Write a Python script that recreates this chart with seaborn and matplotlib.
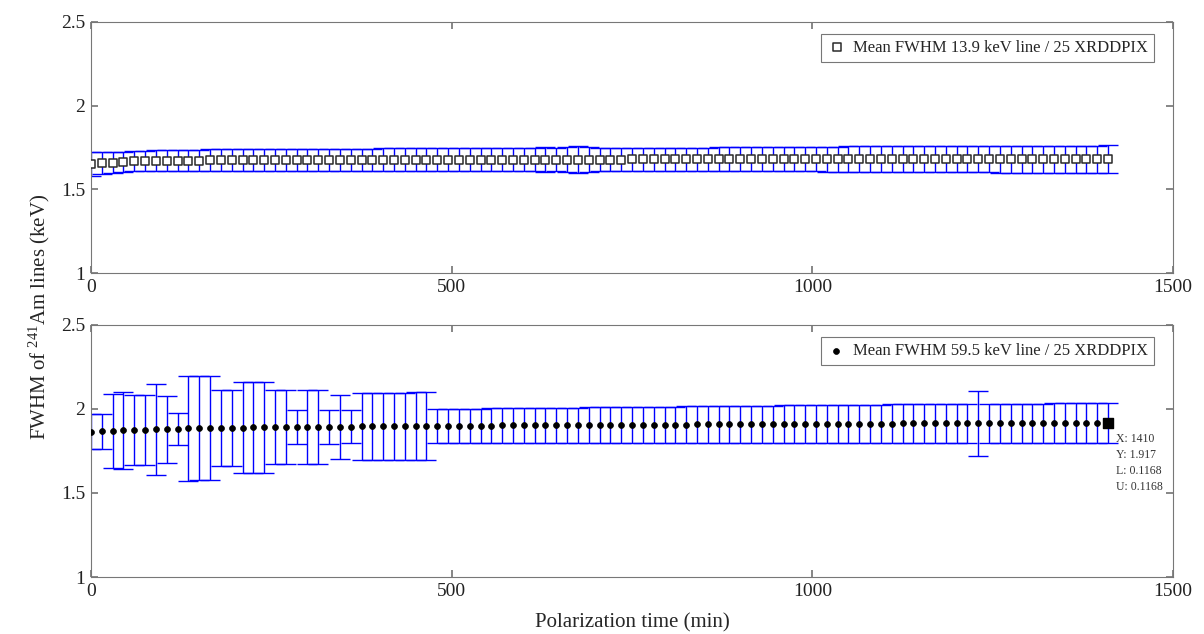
import matplotlib
matplotlib.use("Agg")
import matplotlib.pyplot as plt
import seaborn as sns
import pandas as pd

# polarization time (min)
time_min = [0, 15, 30, 45, 60, 75, 90, 105, 120, 135,
            150, 165, 180, 195, 210, 225, 240, 255, 270, 285,
            300, 315, 330, 345, 360, 375, 390, 405, 420, 435,
            450, 465, 480, 495, 510, 525, 540, 555, 570, 585,
            600, 615, 630, 645, 660, 675, 690, 705, 720, 735,
            750, 765, 780, 795, 810, 825, 840, 855, 870, 885,
            900, 915, 930, 945, 960, 975, 990, 1005, 1020, 1035,
            1050, 1065, 1080, 1095, 1110, 1125, 1140, 1155, 1170, 1185,
            1200, 1215, 1230, 1245, 1260, 1275, 1290, 1305, 1320, 1335,
            1350, 1365, 1380, 1395, 1410]

# mean FWHM of the 13.9 keV line (keV) and its error
fwhm_139 = [1.650, 1.655, 1.660, 1.664, 1.667, 1.669, 1.670, 1.671, 1.671, 1.672,
            1.672, 1.673, 1.673, 1.673, 1.674, 1.674, 1.674, 1.674, 1.675, 1.675,
            1.675, 1.675, 1.675, 1.676, 1.676, 1.676, 1.676, 1.676, 1.676, 1.677,
            1.677, 1.677, 1.677, 1.677, 1.677, 1.677, 1.677, 1.678, 1.678, 1.678,
            1.678, 1.678, 1.678, 1.678, 1.678, 1.678, 1.678, 1.678, 1.678, 1.678,
            1.679, 1.679, 1.679, 1.679, 1.679, 1.679, 1.679, 1.679, 1.679, 1.679,
            1.679, 1.679, 1.679, 1.679, 1.679, 1.679, 1.679, 1.679, 1.680, 1.680,
            1.680, 1.680, 1.680, 1.680, 1.680, 1.680, 1.680, 1.680, 1.680, 1.680,
            1.680, 1.680, 1.680, 1.680, 1.680, 1.680, 1.680, 1.680, 1.680, 1.680,
            1.680, 1.680, 1.680, 1.680, 1.680]
err_139 = [0.070, 0.066, 0.062, 0.060, 0.060, 0.061, 0.062, 0.063, 0.063, 0.064,
           0.064, 0.065, 0.065, 0.065, 0.065, 0.066, 0.066, 0.066, 0.066, 0.066,
           0.067, 0.067, 0.067, 0.067, 0.067, 0.067, 0.067, 0.068, 0.068, 0.068,
           0.068, 0.068, 0.068, 0.068, 0.068, 0.068, 0.068, 0.069, 0.069, 0.069,
           0.069, 0.069, 0.076, 0.069, 0.074, 0.078, 0.076, 0.069, 0.069, 0.070,
           0.070, 0.070, 0.070, 0.070, 0.070, 0.070, 0.070, 0.070, 0.071, 0.071,
           0.071, 0.071, 0.071, 0.071, 0.071, 0.071, 0.071, 0.071, 0.074, 0.075,
           0.076, 0.076, 0.077, 0.077, 0.077, 0.078, 0.078, 0.078, 0.078, 0.079,
           0.079, 0.079, 0.079, 0.079, 0.080, 0.080, 0.080, 0.080, 0.080, 0.080,
           0.081, 0.081, 0.081, 0.081, 0.082]

# mean FWHM of the 59.5 keV line (keV) and its error
fwhm_595 = [1.865, 1.868, 1.870, 1.872, 1.874, 1.876, 1.878, 1.880, 1.882, 1.884,
            1.885, 1.886, 1.887, 1.888, 1.889, 1.890, 1.890, 1.891, 1.892, 1.892,
            1.893, 1.893, 1.894, 1.895, 1.895, 1.896, 1.897, 1.897, 1.898, 1.898,
            1.899, 1.899, 1.900, 1.900, 1.900, 1.901, 1.901, 1.901, 1.902, 1.902,
            1.902, 1.903, 1.903, 1.903, 1.904, 1.904, 1.904, 1.905, 1.905, 1.905,
            1.906, 1.906, 1.906, 1.907, 1.907, 1.907, 1.908, 1.908, 1.908, 1.909,
            1.909, 1.909, 1.910, 1.910, 1.910, 1.911, 1.911, 1.911, 1.912, 1.912,
            1.912, 1.913, 1.913, 1.913, 1.913, 1.914, 1.914, 1.914, 1.914, 1.915,
            1.915, 1.915, 1.915, 1.915, 1.916, 1.916, 1.916, 1.916, 1.916, 1.917,
            1.917, 1.917, 1.917, 1.917, 1.917]
err_595 = [0.105, 0.105, 0.220, 0.230, 0.210, 0.210, 0.270, 0.200, 0.095, 0.310,
           0.310, 0.310, 0.227, 0.227, 0.270, 0.270, 0.270, 0.220, 0.220, 0.100,
           0.220, 0.220, 0.100, 0.190, 0.100, 0.200, 0.200, 0.200, 0.200, 0.200,
           0.202, 0.203, 0.100, 0.100, 0.101, 0.101, 0.101, 0.102, 0.102, 0.102,
           0.103, 0.103, 0.103, 0.104, 0.104, 0.104, 0.105, 0.105, 0.105, 0.106,
           0.106, 0.106, 0.107, 0.107, 0.107, 0.108, 0.108, 0.108, 0.109, 0.109,
           0.109, 0.110, 0.110, 0.110, 0.111, 0.111, 0.111, 0.112, 0.112, 0.112,
           0.113, 0.113, 0.113, 0.113, 0.114, 0.114, 0.114, 0.114, 0.115, 0.115,
           0.115, 0.115, 0.195, 0.116, 0.116, 0.116, 0.116, 0.116, 0.1165, 0.1165,
           0.1165, 0.1166, 0.1167, 0.1167, 0.1168]

label_139 = "Mean FWHM 13.9 keV line / 25 XRDDPIX"
label_595 = "Mean FWHM 59.5 keV line / 25 XRDDPIX"

df = pd.DataFrame({"time": time_min, "f139": fwhm_139, "e139": err_139,
                   "f595": fwhm_595, "e595": err_595})

sns.set_theme(style="ticks")
plt.rcParams["font.family"] = ["Liberation Serif", "DejaVu Serif"]
plt.rcParams["mathtext.default"] = "regular"
plt.rcParams["axes.edgecolor"] = "#777777"
plt.rcParams["xtick.color"] = "#777777"
plt.rcParams["ytick.color"] = "#777777"
plt.rcParams["xtick.labelcolor"] = "#222222"
plt.rcParams["ytick.labelcolor"] = "#222222"

fig = plt.figure(figsize=(12.04, 6.34), dpi=100)
ax1 = fig.add_axes([0.0756, 0.5694, 0.8987, 0.396])
ax2 = fig.add_axes([0.0756, 0.0899, 0.8987, 0.3975])

# top panel: 13.9 keV line
ax1.errorbar(df["time"], df["f139"], yerr=df["e139"], fmt="none",
             ecolor="blue", elinewidth=1.0, capsize=7, capthick=1.0, zorder=2)
sns.scatterplot(data=df, x="time", y="f139", ax=ax1, marker="s", s=28,
                facecolor="white", edgecolor="#2a2a2a", linewidth=1.1,
                label=label_139, zorder=3)

# bottom panel: 59.5 keV line
ax2.errorbar(df["time"], df["f595"], yerr=df["e595"], fmt="none",
             ecolor="blue", elinewidth=1.0, capsize=7, capthick=1.0, zorder=2)
sns.scatterplot(data=df, x="time", y="f595", ax=ax2, marker="o", s=18,
                color="black", edgecolor="black", linewidth=0.5,
                label=label_595, zorder=3)

# data tip on the last point
last = df.iloc[-1]
ax2.scatter([last["time"]], [last["f595"]], marker="s", s=60, color="black", zorder=4)
tip = "X: %d\nY: %.3f\nL: %.4f\nU: %.4f" % (last["time"], last["f595"], last["e595"], last["e595"])
ax2.annotate(tip, xy=(last["time"], last["f595"]), xytext=(6, -7),
             textcoords="offset points", ha="left", va="top",
             fontsize=8.5, color="#333333", linespacing=1.45)

for ax in (ax1, ax2):
    ax.set_xlim(0, 1500)
    ax.set_ylim(1, 2.5)
    ax.set_xticks([0, 500, 1000, 1500])
    ax.set_yticks([1, 1.5, 2, 2.5])
    ax.set_yticklabels(["1", "1.5", "2", "2.5"])
    ax.tick_params(direction="in", top=True, right=True, length=5, labelsize=14, pad=4)
    ax.set_xlabel("")
    ax.set_ylabel("")
    for sp in ax.spines.values():
        sp.set_visible(True)
        sp.set_linewidth(0.8)
    leg = ax.legend(loc="upper right", fontsize=12, frameon=True, fancybox=False,
                    handletextpad=0.4, borderpad=0.35, handlelength=1.2,
                    bbox_to_anchor=(0.99, 0.985))
    leg.get_frame().set_edgecolor("#555555")
    leg.get_frame().set_linewidth(0.8)

ax2.set_xlabel("Polarization time (min)", fontsize=15, labelpad=10)
fig.text(0.033, 0.5, "FWHM of $^{241}$Am lines (keV)", rotation=90,
         ha="center", va="center", fontsize=15)

plt.savefig("out.png", dpi=100)
print("Plot saved as out.png")
